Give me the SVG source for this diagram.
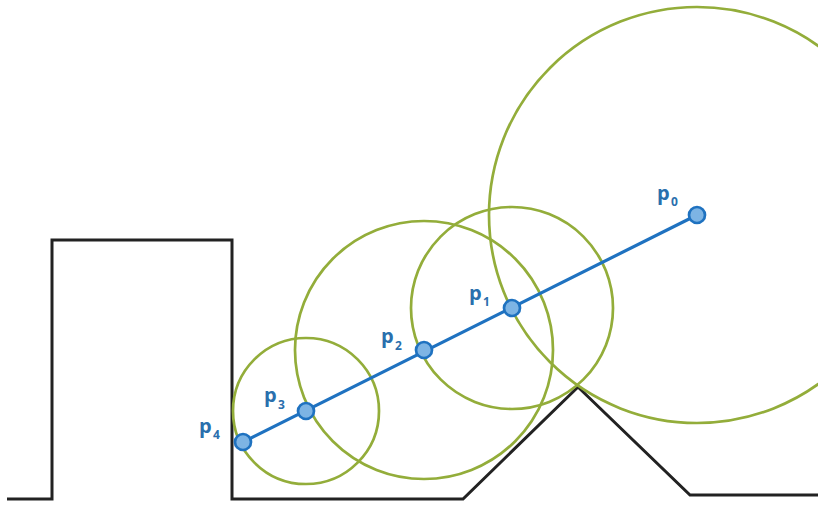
<svg xmlns="http://www.w3.org/2000/svg" width="818" height="505" viewBox="0 0 818 505">
<style>
.ground{fill:none;stroke:#222;stroke-width:3;stroke-linejoin:miter}
.circ{fill:none;stroke:#93ad3a;stroke-width:2.7}
.seg{fill:none;stroke:#1f72c0;stroke-width:3.2}
.pt{fill:#7db4e4;stroke:#1f72c0;stroke-width:2.7}
.lbl{font-family:"Open Sans","DejaVu Sans",sans-serif;font-weight:700;fill:#2a6fad}
.p{font-size:20px}
.s{font-size:12px}
</style>
<rect width="818" height="505" fill="#fff"/>
<path class="ground" d="M7,499 H52 V240 H232 V499 H463 L578,387 L690,495 H818"/>
<g id="circles">
<circle class="circ" cx="697" cy="215" r="208"/>
<circle class="circ" cx="512" cy="308" r="101"/>
<circle class="circ" cx="424" cy="350" r="129"/>
<circle class="circ" cx="306" cy="411" r="73"/>
</g>
<g id="connectors">
<line class="seg" x1="243" y1="442" x2="697" y2="215"/>
</g>
<g id="p0"><circle class="pt" cx="697" cy="215" r="8"/><text class="lbl p" x="657" y="200">p</text><text class="lbl s" x="671" y="206">0</text></g>
<g id="p1"><circle class="pt" cx="512" cy="308" r="8"/><text class="lbl p" x="469" y="300">p</text><text class="lbl s" x="483" y="306">1</text></g>
<g id="p2"><circle class="pt" cx="424" cy="350" r="8"/><text class="lbl p" x="381" y="343">p</text><text class="lbl s" x="395" y="350">2</text></g>
<g id="p3"><circle class="pt" cx="306" cy="411" r="8"/><text class="lbl p" x="264" y="402">p</text><text class="lbl s" x="278" y="409">3</text></g>
<g id="p4"><circle class="pt" cx="243" cy="442" r="8"/><text class="lbl p" x="199" y="433">p</text><text class="lbl s" x="213" y="439">4</text></g>
</svg>
